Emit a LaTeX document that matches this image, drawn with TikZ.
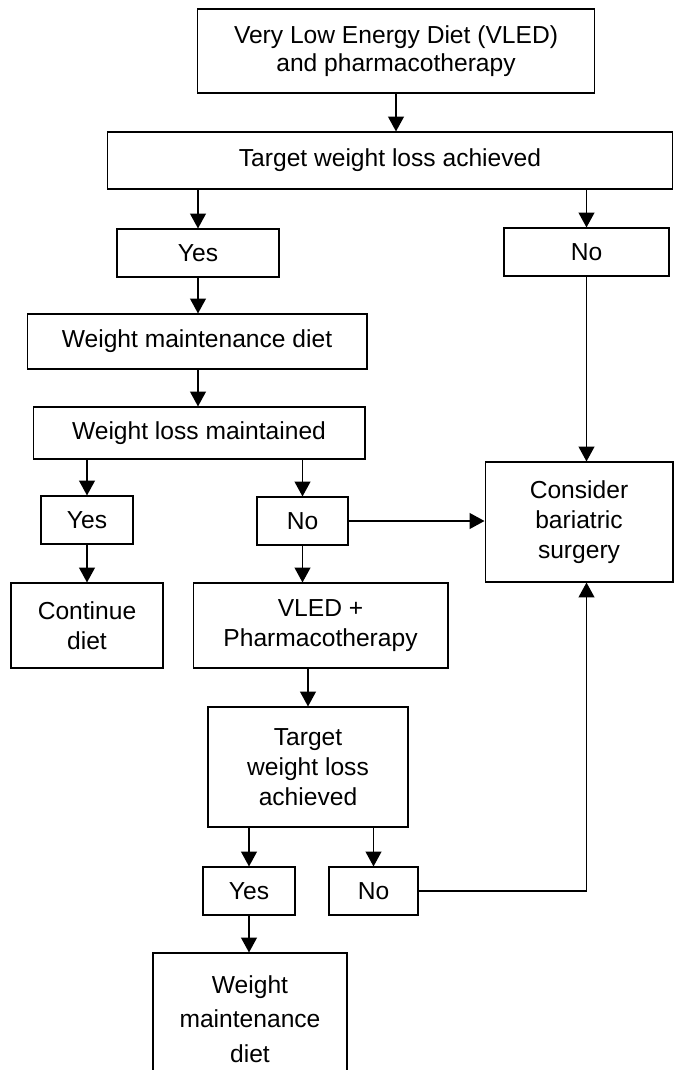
\documentclass[tikz,border=0pt]{standalone}
\usepackage{fontspec}
\setmainfont{Liberation Sans}
\usetikzlibrary{arrows.meta}
\tikzset{box/.style={draw,line width=0.6pt,align=center,inner sep=2pt,font=\fontsize{14}{17}\selectfont},
         flow/.style={-{Triangle[length=8.5pt,width=9pt]},line width=1pt},
            }

\begin{document}
\begin{tikzpicture}[x=0.02cm,y=-0.02cm]
    \clip (0,0) rectangle (677,1070);
    \node[box,minimum width=7.96cm,minimum height=1.68cm,font=\fontsize{14}{16}\selectfont] (vled) at (396,51) {Very Low Energy Diet (VLED)\\and pharmacotherapy};
    \node[box,minimum width=11.32cm,minimum height=1.14cm] (target) at (390,160.5) {Target weight loss achieved};
    \node[box,minimum width=3.24cm,minimum height=0.96cm] (yes) at (198,253) {Yes};
    \node[box,minimum width=3.3cm,minimum height=0.96cm] (no) at (586.5,252) {No};
    \node[box,minimum width=6.8cm,minimum height=1.1cm] (maint) at (197,341.5) {Weight maintenance diet};
    \node[box,minimum width=6.64cm,minimum height=1.04cm] (kept) at (199,433) {Weight loss maintained};
    \node[box,minimum width=1.84cm,minimum height=0.96cm] (keptyes) at (87,520) {Yes};
    \node[box,minimum width=1.82cm,minimum height=0.96cm] (keptno) at (302.5,521) {No};
    \node[box,minimum width=3.76cm,minimum height=2.4cm] (surgery) at (579,522) {Consider\\bariatric\\surgery};
    \node[box,minimum width=3.04cm,minimum height=1.7cm] (cont) at (87,625.5) {Continue\\diet};
    \node[box,minimum width=5.1cm,minimum height=1.7cm] (vledb) at (320.5,625.5) {VLED +\\Pharmacotherapy};
    \node[box,minimum width=4cm,minimum height=2.4cm] (targetb) at (308,767) {Target\\weight loss\\achieved};
    \node[box,minimum width=1.84cm,minimum height=0.96cm] (yesb) at (249,891) {Yes};
    \node[box,minimum width=1.78cm,minimum height=0.96cm] (nob) at (373.5,891) {No};
    \node[box,minimum width=3.88cm,minimum height=2.64cm,font=\fontsize{14}{19.8}\selectfont] (maintb) at (250,1019) {Weight\\maintenance\\diet};

    \path[flow]
    (vled) edge (vled |- target.north)
    (target.south -| yes) edge (yes)
    (target.south -| no) edge (no)
    (yes) edge (yes |- maint.north)
    (yes |- maint.south) edge (yes |- kept.north)
    (kept.south -| keptyes) edge (keptyes)
    (kept.south -| keptno) edge (keptno)
    (no) edge (no |- surgery.north)
    (keptno) edge (keptno -| surgery.west)
    (keptyes) edge (cont)
    (keptno) edge (keptno |- vledb.north)
    (vledb.south -| targetb) edge (targetb)
    (targetb.south -| yesb) edge (yesb)
    (targetb.south -| nob) edge (nob)
    (yesb) edge (yesb |- maintb.north);
    \draw[flow] (nob) -| (no |- surgery.south);
  \end{tikzpicture}
\end{document}
